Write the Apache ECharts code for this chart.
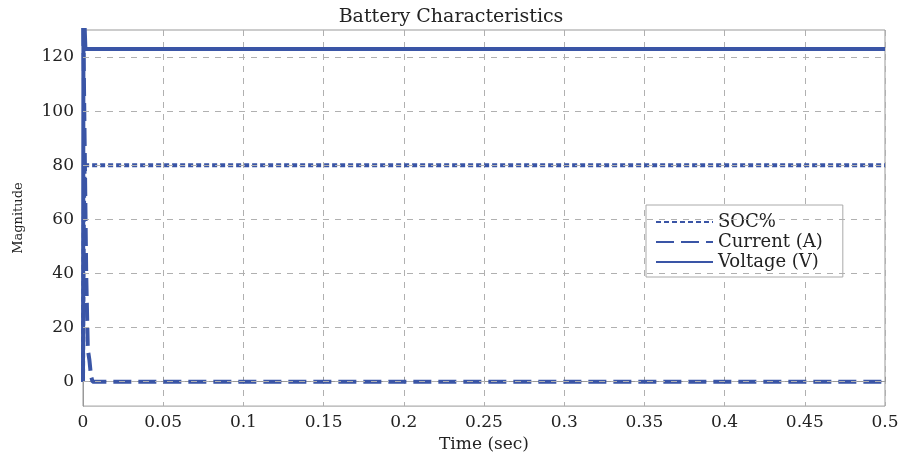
<!DOCTYPE html>
<html><head><meta charset="utf-8">
<script src="https://cdn.jsdelivr.net/npm/echarts@6/dist/echarts.min.js"></script>
<style>html,body{margin:0;padding:0;background:#fff}#c{width:902px;height:458px}</style>
</head><body><div id="c"></div>
<script>
const title = 'Battery Characteristics';
const xName = 'Time (sec)';
const yName = 'Magnitude';
const xTicks = [0,0.05,0.1,0.15,0.2,0.25,0.3,0.35,0.4,0.45,0.5];
const yTicks = [0,20,40,60,80,100,120];
const socT = [0, 0.0005, 0.001, 0.5];
const socV = [0, 60, 80, 80];
const curT = [0, 0.001, 0.002, 0.003, 0.004, 0.005, 0.006, 0.5];
const curV = [140, 90, 40, 12, 8, 2, 0, 0];
const voltT = [0, 0.0003, 0.0008, 0.0015, 0.5];
const voltV = [0, 140, 135, 123, 123];
const color = '#3a55a6';
const serif = 'DejaVu Serif';

const zip = (a,b)=>a.map((t,i)=>[t,b[i]]);
const chart = echarts.init(document.getElementById('c'));
chart.setOption({
  animation:false,
  title:{text:title,left:'center',top:3,textStyle:{fontFamily:serif,fontSize:19,fontWeight:'normal',color:'#222'}},
  grid:{left:83,right:17,top:30,bottom:51,show:true,borderColor:'#999',borderWidth:1},
  legend:{
    left:646,top:205,orient:'vertical',itemGap:2,itemWidth:57,itemHeight:14,
    backgroundColor:'#fff',borderColor:'#aaa',borderWidth:1,borderRadius:0,padding:[8,20,6,9],
    itemStyle:{opacity:0},
    textStyle:{fontFamily:serif,fontSize:18,color:'#222'},
    data:['SOC%','Current (A)','Voltage (V)']
  },
  xAxis:{type:'value',min:0,max:0.5,interval:0.05,name:xName,nameLocation:'middle',nameGap:27,
    nameTextStyle:{fontFamily:serif,fontSize:17,color:'#222'},
    axisLine:{lineStyle:{color:'#999'}},axisTick:{inside:true,lineStyle:{color:'#999'}},
    axisLabel:{fontFamily:serif,fontSize:17,color:'#222',margin:8,formatter:v=>String(+v.toFixed(2))},
    splitLine:{show:true,lineStyle:{type:[6,6],color:'#b0b0b0'}}},
  yAxis:{type:'value',min:-9,max:130,name:yName,nameLocation:'middle',nameGap:58,
    nameTextStyle:{fontFamily:serif,fontSize:13,color:'#222'},
    axisLine:{lineStyle:{color:'#999'}},
    axisTick:{inside:true,customValues:yTicks,lineStyle:{color:'#999'}},
    axisLabel:{fontFamily:serif,fontSize:17,color:'#222',margin:9,customValues:yTicks},
    splitLine:{show:false}},
  series:[
    {name:'grid',type:'line',data:[],silent:true,
     markLine:{symbol:'none',silent:true,label:{show:false},lineStyle:{type:[6,6],color:'#b0b0b0',width:1},
       data:yTicks.map(v=>({yAxis:v}))}},
    {name:'SOC%',type:'line',symbol:'none',data:zip(socT,socV),color:color,lineStyle:{width:4,type:[5,3],color:color}},
    {name:'Current (A)',type:'line',symbol:'none',data:zip(curT,curV),color:color,lineStyle:{width:4,type:[18,7],color:color}},
    {name:'Voltage (V)',type:'line',symbol:'none',data:zip(voltT,voltV),color:color,lineStyle:{width:4,color:color}}
  ]
});
</script></body></html>
